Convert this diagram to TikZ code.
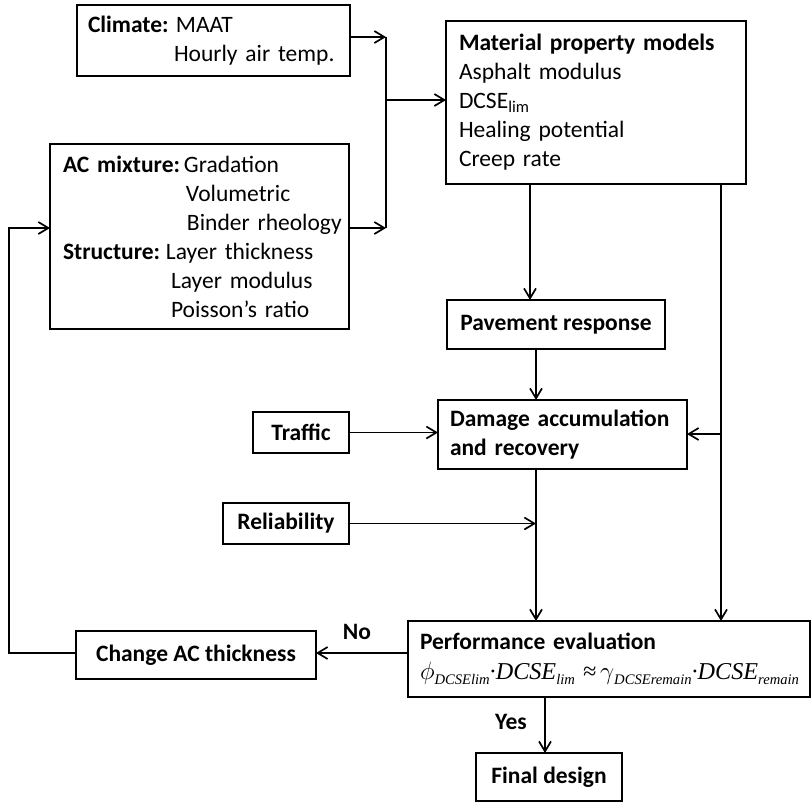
\documentclass[tikz,border=0pt]{standalone}
\usepackage{fontspec}
\setmainfont{Carlito}
\newfontfamily\tnrfont{Liberation Serif}
\newcommand\fsub[1]{\raisebox{-0.22em}{\fontsize{14.5}{15}\selectfont #1}}
\usetikzlibrary{arrows.meta}
\begin{document}
\begin{tikzpicture}[x=1pt,y=-1pt,
  font=\fontsize{23.5}{29}\selectfont,
  box/.style={draw, line width=2.2pt, outer sep=0pt, anchor=north west, inner ysep=0pt},
  lbox/.style={box, align=left},
  bbox/.style={box, font=\fontsize{23.5}{29}\selectfont\bfseries},
  conn/.style={line width=1.7pt},
  arr/.style={conn, -{Straight Barb[length=10pt,width=12pt]}},
  lbl/.style={font=\fontsize{23.5}{29}\selectfont\bfseries, inner sep=0pt}
]
\useasboundingbox (0,0) rectangle (812,804);

% boxes
\node[lbox, minimum width=273pt, minimum height=71pt, inner xsep=11pt, text width=251pt] (clim) at (77,5)
  {\mbox{\makebox[88pt][l]{\textbf{Climate:}}MAAT}\\ \mbox{\hspace*{86pt}Hourly air temp.}};
\node[lbox, minimum width=299pt, minimum height=185pt, inner xsep=13pt, text width=273pt] (ac) at (50,144)
  {\mbox{\makebox[121pt][l]{\textbf{AC mixture:}}Gradation}\\
   \mbox{\hspace*{123pt}Volumetric}\\
   \mbox{\hspace*{124pt}Binder rheology}\\
   \mbox{\makebox[103pt][l]{\textbf{Structure:}}Layer thickness}\\
   \mbox{\hspace*{108pt}Layer modulus}\\
   \mbox{\hspace*{108pt}Poisson’s ratio}};
\node[lbox, minimum width=300pt, minimum height=163pt, inner xsep=13pt, text width=274pt] (mat) at (446,21)
  {\textbf{Material property models}\\ Asphalt modulus\\ DCSE\textsubscript{lim}\\ Healing potential\\ Creep rate};
\node[bbox, minimum width=218pt, minimum height=49pt] (pav) at (447,300) {Pavement response};
\node[lbox, minimum width=249pt, minimum height=69pt, inner xsep=12pt, text width=225pt, font=\fontsize{23.5}{29}\selectfont\bfseries] (dmg) at (438,400)
  {Damage accumulation\\ and recovery};
\node[bbox, minimum width=96pt, minimum height=41pt] (traf) at (253,412) {Traffic};
\node[bbox, minimum width=126pt, minimum height=41pt] (rel) at (223,503) {Reliability};
\node[lbox, minimum width=402pt, minimum height=76pt, inner xsep=12pt, text width=378pt] (perf) at (408,621)
  {\textbf{Performance evaluation}\\[1pt]
   \mbox{\resizebox{379pt}{!}{\tnrfont\itshape\fontsize{24}{29}\selectfont
     $\phi$\fsub{DCSElim}·DCSE\fsub{lim} ≈\,$\gamma$\fsub{DCSEremain}·DCSE\fsub{remain}}}};
\node[bbox, minimum width=240pt, minimum height=48pt] (chg) at (76,631) {Change AC thickness};
\node[bbox, minimum width=146pt, minimum height=48pt] (fin) at (476,753) {Final design};

% labels
\node[lbl] (no) at (357,632) {No};
\node[lbl] (yes) at (511,722) {Yes};

% junction coordinates
\coordinate (jc) at (386,37);
\coordinate (ja) at (386,228);
\coordinate (jm) at (386,100);
\coordinate (p1) at (530,0);
\coordinate (cx) at (536,0);
\coordinate (rx) at (721,0);
\coordinate (jd) at (721,434);
\coordinate (fx) at (545,0);
\coordinate (fb) at (9,228);
\coordinate (cy) at (0,653);

% connectors
\draw[arr] (clim.east |- jc) -- (jc);
\draw[arr] (ac.east |- ja) -- (ja);
\draw[conn] (jc) -- (ja);
\draw[arr] (jm) -- (mat.west |- jm);
\draw[arr] (mat.south -| p1) -- (pav.north -| p1);
\draw[arr] (pav.south -| cx) -- (dmg.north -| cx);
\draw[arr] (dmg.south -| cx) -- (perf.north -| cx);
\draw[arr] (mat.south -| rx) -- (perf.north -| rx);
\draw[arr] (jd) -- (dmg.east |- jd);
\draw[arr] (traf.east) -- (dmg.west |- traf.east);
\draw[arr] (rel.east) -- (rel.east -| cx);
\draw[arr] (perf.west |- cy) -- (chg.east |- cy);
\draw[arr] (perf.south -| fx) -- (fin.north -| fx);
\draw[arr] (chg.west |- cy) -| (fb) -- (ac.west |- fb);
\end{tikzpicture}
\end{document}
